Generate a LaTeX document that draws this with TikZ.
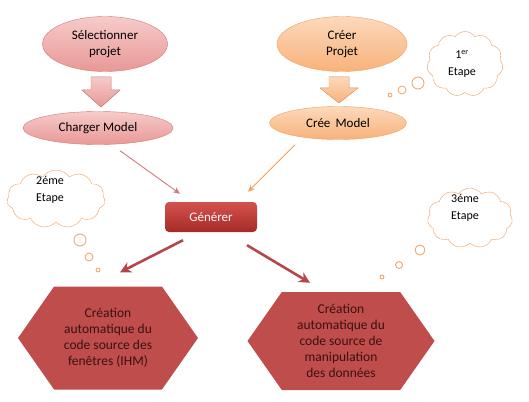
\documentclass[tikz,border=0pt]{standalone}
\usepackage{fontspec}
\setmainfont{Carlito}
\usepackage{xcolor}
\usetikzlibrary{shapes.geometric, shapes.symbols, arrows.meta}

\definecolor{pinkline}{HTML}{D27A77}
\definecolor{pinktop}{HTML}{F6CBCA}
\definecolor{pinkbot}{HTML}{E89896}
\definecolor{orline}{HTML}{F0A060}
\definecolor{ortop}{HTML}{FCD9BC}
\definecolor{orbot}{HTML}{F8B27A}
\definecolor{gentop}{HTML}{D4524E}
\definecolor{genbot}{HTML}{A52B28}
\definecolor{hexred}{HTML}{BF4D4B}
\definecolor{hextext}{HTML}{3A1210}
\definecolor{arrred}{HTML}{B5474A}

\begin{document}
\begin{tikzpicture}[x=1pt, y=-1pt,
    every node/.style={font=\fontsize{13}{16}\selectfont, align=center},
    pinkell/.style={ellipse, draw=pinkline, top color=pinktop, bottom color=pinkbot, inner sep=0pt},
    orell/.style={ellipse, draw=orline, top color=ortop, bottom color=orbot, inner sep=0pt},
    thought/.style={cloud, cloud puffs=11, cloud puff arc=110, draw=orline, fill=white, inner sep=0pt},
    thoughttext/.style={font=\fontsize{12}{16.5}\selectfont, inner sep=0pt},
    bubble/.style={draw=orline, fill=white, line width=0.8pt},
    hexbox/.style={signal, signal to=east and west, signal pointer angle=110,
      fill=hexred, text=hextext, inner sep=0pt, font=\fontsize{13.5}{16}\selectfont}]
  \useasboundingbox (0,0) rectangle (529,401);

  % first step
  \node [pinkell, minimum width=125, minimum height=55] (sel) at (105,44) {Sélectionner\\projet};
  \node [pinkell, minimum width=150, minimum height=33] (chg) at (98,128) {Charger Model};
  \node [orell, minimum width=130, minimum height=55] (crp) at (342,44) {Créer\\Projet};
  \node [orell, minimum width=137, minimum height=33] (crm) at (338,123) {Crée\, Model};
  \filldraw [draw=pinkline, top color=pinktop, bottom color=pinkbot]
    (91,77) -- (111,77) -- (111,90) -- (120,90) -- (101,107) -- (82,90) -- (91,90) -- cycle;
  \filldraw [draw=orline, top color=ortop, bottom color=orbot]
    (329,77) -- (349,77) -- (349,88) -- (358,88) -- (339,103) -- (320,88) -- (329,88) -- cycle;

  % second step
  \node [rounded corners=4pt, top color=gentop, bottom color=genbot, text=white!92!pink,
    minimum width=92, minimum height=30, inner sep=0pt] (gen) at (211,217) {Générer};

  % third step
  \node [hexbox, minimum width=180, minimum height=103] (hexl) at (108,338)
    {Création\\automatique du\\code source des\\fenêtres (IHM)};
  \node [hexbox, minimum width=187, minimum height=98] (hexr) at (341,341)
    {Création\\automatique du\\code source de\\manipulation\\des données};

  \draw [->, >={Stealth[length=7pt, width=6pt]}, pinkline, line width=0.9pt]
    ([shift={(22,6)}]chg.south) to ([shift={(-31,-8)}]gen.north);
  \draw [->, >={Stealth[length=7pt, width=6pt]}, orline, line width=0.9pt]
    ([shift={(-43,5)}]crm.south) to ([shift={(37,-10)}]gen.north);
  \draw [->, >={Stealth[length=11pt, width=11pt]}, arrred, line width=2.6pt]
    ([shift={(-28,8)}]gen.south) to ([shift={(12,-14)}]hexl.north);
  \draw [->, >={Stealth[length=11pt, width=11pt]}, arrred, line width=2.6pt]
    ([shift={(36,13)}]gen.south) to ([shift={(-31,-9)}]hexr.north);

  % thought clouds
  \node [thought, minimum width=76, minimum height=65] (c1) at (465,64) {};
  \node [thoughttext] (t1) at (462,64) {1\textsuperscript{er}\\Etape};
  \draw [bubble] (418,83) circle (6);
  \draw [bubble] (402,90) circle (4);
  \draw [bubble] (390,95) circle (2);
  \node [thought, minimum width=98, minimum height=58] (c2) at (56,199) {};
  \node [thoughttext] (t2) at (50,190) {2éme\\Etape};
  \draw [bubble] (80,240) circle (6);
  \draw [bubble] (89,257) circle (4);
  \draw [bubble] (98,270) circle (2);
  \node [thought, minimum width=85, minimum height=60] (c3) at (470,218) {};
  \node [thoughttext] (t3) at (465,208) {3éme\\Etape};
  \draw [bubble] (420,250) circle (5);
  \draw [bubble] (399,265) circle (3.5);
  \draw [bubble] (382,277) circle (2);
\end{tikzpicture}
\end{document}
